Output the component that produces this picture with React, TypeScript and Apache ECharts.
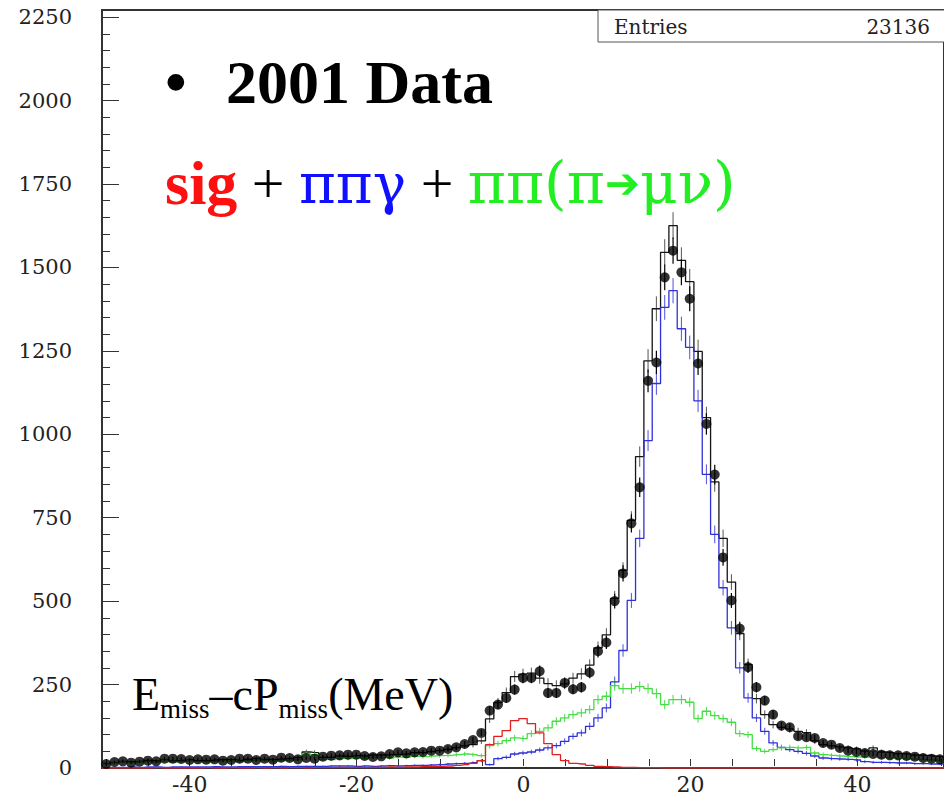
import React, { useEffect, useRef } from "react";
import * as echarts from "echarts";

// ---- histogram binning (1 MeV bins, centres -50 ... 50) ----
const BIN_FIRST = -50;
const X_RANGE = [-50.5, 50.5];
const Y_MAX = 2271;
const Y_TICK_MAX = 2250;
const Y_INTERVAL = 250;
const X_INTERVAL = 5;
const X_LABELS = [-40, -20, 0, 20, 40];
const ENTRIES = 23136;

// 2001 data (black points)
const DATA = [
  12, 18, 20, 16, 19, 22, 20, 28, 28, 27,
  24, 26, 25, 26, 22, 24, 28, 28, 24, 28,
  25, 31, 30, 26, 30, 28, 34, 37, 38, 40,
  40, 36, 33, 35, 42, 47, 44, 47, 48, 52,
  52, 57, 62, 72, 84, 105, 172, 190, 210, 235,
  270, 270, 290, 225, 225, 255, 236, 242, 286, 350,
  376, 500, 583, 733, 841, 1160, 1215, 1470, 1550, 1485,
  1406, 1212, 1031, 879, 631, 502, 418, 302, 242, 202,
  160, 127, 122, 95, 92, 90, 75, 70, 60, 52,
  48, 45, 42, 40, 38, 38, 36, 34, 30, 28, 26,
];

// total MC (black histogram)
const TOTAL = [
  14, 17, 20, 19, 20, 23, 21, 24, 21, 23,
  25, 22, 22, 24, 25, 25, 23, 26, 29, 26,
  25, 27, 29, 32, 48, 46, 32, 32, 36, 35,
  37, 36, 39, 39, 40, 41, 42, 46, 46, 49,
  52, 56, 61, 66, 70, 81, 147, 196, 226, 274,
  281, 284, 269, 253, 247, 252, 269, 282, 308, 360,
  399, 508, 592, 742, 933, 1220, 1376, 1545, 1625, 1521,
  1457, 1248, 1050, 857, 688, 557, 403, 310, 208, 160,
  130, 122, 117, 110, 106, 81, 70, 66, 63, 60,
  57, 51, 60, 48, 46, 43, 42, 39, 38, 36, 34,
];

// pi pi gamma (blue)
const BLUE = [
  2, 2, 2, 3, 2, 3, 3, 2, 3, 3,
  3, 3, 3, 4, 3, 3, 4, 4, 4, 4,
  4, 5, 4, 5, 5, 5, 5, 6, 6, 6,
  5, 6, 5, 6, 7, 6, 7, 8, 8, 9,
  10, 12, 13, 14, 16, 22, 10, 28, 32, 42,
  45, 48, 54, 60, 67, 80, 95, 105, 125, 150,
  180, 258, 352, 502, 688, 981, 1152, 1380, 1430, 1316,
  1260, 1100, 880, 700, 540, 420, 300, 210, 150, 110,
  75, 62, 55, 50, 44, 36, 30, 28, 27, 26,
  24, 19, 17, 17, 16, 15, 15, 13, 13, 12, 12,
];

// pi pi (pi -> mu nu) (green)
const GREEN = [
  12, 15, 18, 16, 18, 20, 17, 22, 18, 20,
  22, 19, 18, 20, 22, 21, 19, 22, 24, 22,
  20, 22, 24, 26, 43, 40, 26, 25, 28, 28,
  30, 29, 32, 31, 30, 33, 32, 35, 34, 36,
  37, 38, 40, 42, 40, 37, 67, 73, 82, 90,
  88, 103, 110, 120, 140, 150, 160, 165, 175, 205,
  215, 247, 238, 238, 244, 238, 223, 190, 205, 205,
  197, 148, 170, 157, 148, 137, 103, 100, 58, 50,
  55, 60, 62, 60, 62, 45, 40, 38, 36, 34,
  33, 32, 50, 31, 30, 28, 27, 26, 25, 24, 22,
];

// signal (red)
const RED = [
  0, 0, 0, 0, 0, 0, 1, 0, 0, 0,
  0, 0, 1, 0, 0, 1, 0, 0, 1, 0,
  1, 0, 1, 1, 0, 1, 1, 1, 2, 1,
  2, 1, 2, 2, 3, 2, 3, 3, 4, 4,
  5, 6, 8, 10, 14, 22, 70, 95, 112, 142,
  148, 133, 105, 73, 40, 22, 14, 12, 8, 5,
  4, 3, 2, 2, 1, 1, 1, 0, 0, 0,
  0, 0, 0, 0, 0, 0, 0, 0, 0, 0,
  0, 0, 0, 0, 0, 0, 0, 0, 0, 0,
  0, 0, 0, 0, 0, 0, 0, 0, 0, 0, 0,
];

const SERIF = "'Liberation Serif', 'Times New Roman', 'DejaVu Serif', serif";
const GREEK = "'DejaVu Serif', 'Liberation Serif', serif";
const LABEL_FONT = "'DejaVu Serif', 'Liberation Serif', serif";

function stepData(vals: number[]) {
  const pts = vals.map((v, i) => [BIN_FIRST + i, v]);
  return [[X_RANGE[0], vals[0]], ...pts, [X_RANGE[1], vals[vals.length - 1]]];
}

function histSeries(vals: number[], color: string, z: number) {
  return {
    type: "line",
    xAxisIndex: 0,
    yAxisIndex: 0,
    step: "middle",
    data: stepData(vals),
    showSymbol: false,
    symbol: "none",
    silent: true,
    z,
    lineStyle: { color, width: 1.3 },
  };
}

function errSeries(vals: number[], color: string, z: number, width: number) {
  return {
    type: "custom",
    xAxisIndex: 0,
    yAxisIndex: 0,
    silent: true,
    z,
    encode: { x: 0, y: 1 },
    data: vals.map((v, i) => [BIN_FIRST + i, v, Math.sqrt(v)]),
    renderItem: (_params: any, api: any) => {
      const x = api.value(0);
      const y = api.value(1);
      const e = api.value(2);
      if (!e) return null;
      const a = api.coord([x, y - e]);
      const b = api.coord([x, y + e]);
      return {
        type: "line",
        shape: { x1: a[0], y1: a[1], x2: b[0], y2: b[1] },
        style: { stroke: color, lineWidth: width },
      };
    },
  };
}

export default function App() {
  const ref = useRef<HTMLDivElement>(null);

  useEffect(() => {
    if (!ref.current) return;
    const chart = echarts.init(ref.current, null, { renderer: "svg" });

    const option: any = {
      animation: false,
      backgroundColor: "#ffffff",
      grid: [
        {
          left: 102, top: 10, width: 843.4, height: 758,
          show: true, borderColor: "#333", borderWidth: 2,
          backgroundColor: "transparent",
        },
        { left: 106.2, top: 10, width: 835, height: 758, show: false },
        { left: 102, top: 17.2, width: 843.4, height: 750.8, show: false },
      ],
      xAxis: [
        { gridIndex: 0, type: "value", min: X_RANGE[0], max: X_RANGE[1], show: false },
        {
          gridIndex: 1, type: "value", min: -50, max: 50, interval: X_INTERVAL,
          axisLine: { show: false },
          axisTick: { show: true, inside: true, length: 7, lineStyle: { color: "#333", width: 1 } },
          splitLine: { show: false },
          axisLabel: {
            margin: 7,
            fontFamily: LABEL_FONT,
            fontSize: 22,
            color: "#222",
            formatter: (v: number) => (X_LABELS.includes(v) ? String(v) : ""),
          },
        },
        { gridIndex: 2, type: "value", min: 0, max: 1, show: false },
      ],
      yAxis: [
        { gridIndex: 0, type: "value", min: 0, max: Y_MAX, show: false },
        { gridIndex: 1, type: "value", min: 0, max: 1, show: false },
        {
          gridIndex: 2, type: "value", min: 0, max: Y_TICK_MAX, interval: Y_INTERVAL,
          axisLine: { show: false },
          axisTick: { show: true, inside: true, length: 17, lineStyle: { color: "#333", width: 1 } },
          minorTick: { show: true, splitNumber: 5, length: 8, lineStyle: { color: "#333", width: 1 } },
          splitLine: { show: false },
          axisLabel: {
            margin: 30,
            fontFamily: LABEL_FONT,
            fontSize: 21,
            color: "#222",
            formatter: (v: number) => String(v),
          },
        },
      ],
      series: [
        histSeries(TOTAL, "#151515", 2),
        errSeries(TOTAL, "#555555", 2, 1),
        histSeries(BLUE, "#3030d8", 3),
        errSeries(BLUE, "#5050e0", 3, 1),
        histSeries(GREEN, "#44dd44", 3),
        errSeries(GREEN, "#44dd44", 3, 1),
        histSeries(RED, "#e02020", 4),
        errSeries(DATA, "#000000", 5, 1.2),
        {
          type: "scatter",
          xAxisIndex: 0,
          yAxisIndex: 0,
          silent: true,
          z: 6,
          symbol: "circle",
          symbolSize: 10,
          itemStyle: { color: "#000000" },
          data: DATA.map((v, i) => [BIN_FIRST + i, v]),
        },
      ],
      graphic: [
        {
          type: "rect",
          z: 100,
          shape: { x: 598, y: 10, width: 360, height: 32 },
          style: { fill: "#ffffff", stroke: "#555555", lineWidth: 1 },
        },
        {
          type: "text",
          z: 101,
          x: 614,
          y: 27,
          style: {
            text: "Entries",
            fill: "#222",
            font: `20px ${LABEL_FONT}`,
            align: "left", textAlign: "left",
            verticalAlign: "middle", textVerticalAlign: "middle",
          },
        },
        {
          type: "text",
          z: 101,
          x: 930,
          y: 27,
          style: {
            text: String(ENTRIES),
            fill: "#222",
            font: `20px ${LABEL_FONT}`,
            align: "right", textAlign: "right",
            verticalAlign: "middle", textVerticalAlign: "middle",
          },
        },
        {
          type: "text",
          z: 101,
          x: 165,
          y: 82,
          style: {
            text: "\u2022",
            fill: "#000",
            font: `bold 62px ${SERIF}`,
            align: "left", textAlign: "left",
            verticalAlign: "middle", textVerticalAlign: "middle",
          },
        },
        {
          type: "text",
          z: 101,
          x: 226,
          y: 82,
          style: {
            text: "2001 Data",
            fill: "#000",
            font: `bold 62px ${SERIF}`,
            align: "left", textAlign: "left",
            verticalAlign: "middle", textVerticalAlign: "middle",
          },
        },
        {
          type: "text",
          z: 101,
          x: 165,
          y: 183,
          style: {
            text: "{r|sig}{k| + }{b|\u03c0\u03c0\u03b3}{k| + }{g|\u03c0\u03c0(\u03c0}{a|\u2794}{g|\u03bc\u03bd)}",
            align: "left", textAlign: "left",
            verticalAlign: "middle", textVerticalAlign: "middle",
            rich: {
              r: { fill: "#ff1010", fontSize: 62, fontFamily: SERIF, fontWeight: "bold", lineHeight: 70 },
              k: { fill: "#000", fontSize: 58, fontFamily: SERIF, lineHeight: 70 },
              b: { fill: "#1010ff", fontSize: 56, fontFamily: GREEK, lineHeight: 70 },
              g: { fill: "#22ee22", fontSize: 58, fontFamily: GREEK, lineHeight: 70 },
              a: { fill: "#22ee22", fontSize: 42, fontFamily: "'DejaVu Sans', sans-serif", lineHeight: 70 },
            },
          },
        },
        {
          type: "text",
          z: 101,
          x: 132,
          y: 694,
          style: {
            text: "{m|E}{s|miss}{m|\u2013cP}{s|miss}{m|(MeV)}",
            align: "left", textAlign: "left",
            verticalAlign: "middle", textVerticalAlign: "middle",
            rich: {
              m: { fill: "#000", fontSize: 46, fontFamily: SERIF, lineHeight: 56 },
              s: { fill: "#000", fontSize: 27, fontFamily: SERIF, lineHeight: 23, verticalAlign: "bottom" },
            },
          },
        },
      ],
    };

    chart.setOption(option);
    return () => {
      chart.dispose();
    };
  }, []);

  return (
    <div
      ref={ref}
      style={{ position: "fixed", left: 0, top: 0, width: 944, height: 795, background: "#fff" }}
    />
  );
}
